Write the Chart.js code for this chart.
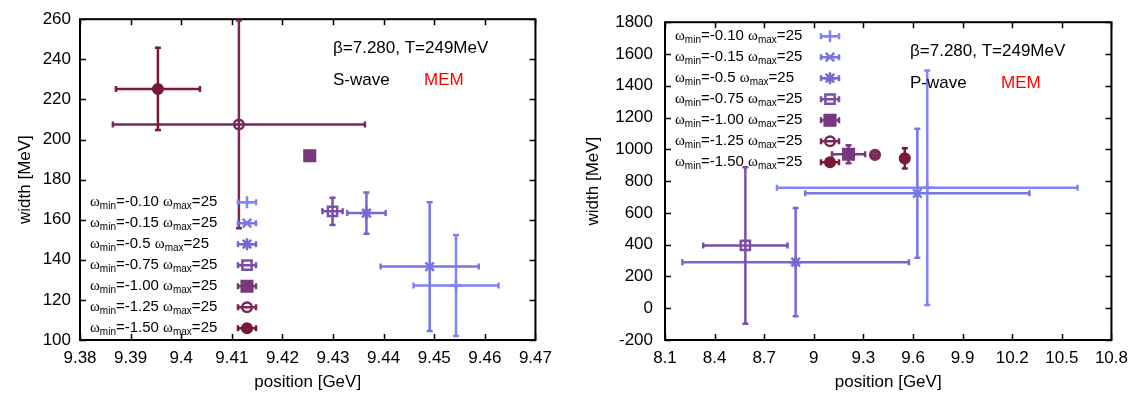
<!DOCTYPE html>
<html>
<head>
<meta charset="utf-8">
<script src="https://cdn.jsdelivr.net/npm/chart.js@4.4.1/dist/chart.umd.min.js"></script>
<style>
  html, body { margin: 0; padding: 0; background: #fff; }
  #wrap { position: relative; width: 1136px; height: 394px; }
  canvas { position: absolute; top: 0; }
  #sChart { left: 0; }
  #pChart { left: 560px; }
</style>
</head>
<body>
<div id="wrap">
  <canvas id="sChart" width="560" height="394"></canvas>
  <canvas id="pChart" width="576" height="394"></canvas>
</div>
<script>
// one entry per omega_min (omega_max = 25 for all)
const omegaMin = ["-0.10", "-0.15", "-0.5", "-0.75", "-1.00", "-1.25", "-1.50"];
const colors = ["#8084f6", "#7876e6", "#7a66d2", "#7a4fa8", "#78387e", "#7a2858", "#7a1838"];
const markers = ["cross", "crossRot", "star", "rect", "rect", "circle", "circle"];
const filled = [false, false, false, false, true, false, true];
const markerSize = [6, 6, 6, 6.5, 7.5, 4.8, 4.8];

// S-wave
const sPosition = [9.4543, 9.4491, 9.4366, 9.4299, 9.4254, 9.4114, 9.3954];
const sPositionErr = [0.0084, 0.0097, 0.0038, 0.0020, 0.0005, 0.0249, 0.0083];
const sWidth = [127.2, 136.6, 163.3, 164.2, 191.9, 207.5, 225.2];
const sWidthErr = [25.2, 32.1, 10.3, 6.8, 1.0, 51.8, 20.5];
const sXTicks = [9.38, 9.39, 9.40, 9.41, 9.42, 9.43, 9.44, 9.45, 9.46, 9.47];
const sYTicks = [100, 120, 140, 160, 180, 200, 220, 240, 260];

// P-wave
const pPosition = [9.686, 9.626, 8.890, 8.586, 9.210, 9.370, 9.550];
const pPositionErr = [0.909, 0.678, 0.685, 0.255, 0.100, 0.02, 0.02];
const pWidth = [758, 723, 290, 395, 969, 965, 943];
const pWidthErr = [738, 406, 340, 492, 57, 18, 64];
const pXTicks = [8.1, 8.4, 8.7, 9.0, 9.3, 9.6, 9.9, 10.2, 10.5, 10.8];
const pYTicks = [-200, 0, 200, 400, 600, 800, 1000, 1200, 1400, 1600, 1800];

const FONT = "'Liberation Sans', Arial, sans-serif";

// frame with inward ticks on all four sides, gnuplot style
const framePlugin = {
  id: "frame",
  beforeDatasetsDraw(chart) {
    const { ctx, chartArea: a, scales: { x, y } } = chart;
    ctx.save();
    ctx.strokeStyle = "#000";
    ctx.lineWidth = 1.5;
    ctx.beginPath();
    x.ticks.forEach(t => {
      const px = Math.round(x.getPixelForValue(t.value)) + 0.5;
      ctx.moveTo(px, a.bottom); ctx.lineTo(px, a.bottom - 6);
      ctx.moveTo(px, a.top); ctx.lineTo(px, a.top + 6);
    });
    y.ticks.forEach(t => {
      const py = Math.round(y.getPixelForValue(t.value)) + 0.5;
      ctx.moveTo(a.left, py); ctx.lineTo(a.left + 6, py);
      ctx.moveTo(a.right, py); ctx.lineTo(a.right - 6, py);
    });
    ctx.stroke();
    ctx.lineWidth = 2;
    ctx.strokeRect(a.left, a.top, a.right - a.left, a.bottom - a.top);
    ctx.restore();
  }
};

// xy error bars, drawn just before each dataset's point
const errorBarPlugin = {
  id: "errorBars",
  beforeDatasetDraw(chart, args) {
    const { ctx, chartArea: a, scales: { x, y } } = chart;
    const ds = chart.data.datasets[args.index];
    ctx.save();
    ctx.beginPath();
    ctx.rect(a.left, a.top, a.right - a.left, a.bottom - a.top);
    ctx.clip();
    ctx.strokeStyle = ds.borderColor;
    ctx.lineWidth = 2.5;
    ds.data.forEach(p => {
      const cx = x.getPixelForValue(p.x), cy = y.getPixelForValue(p.y);
      const x0 = x.getPixelForValue(p.x - p.xErr), x1 = x.getPixelForValue(p.x + p.xErr);
      const y0 = y.getPixelForValue(p.y - p.yErr), y1 = y.getPixelForValue(p.y + p.yErr);
      ctx.beginPath();
      ctx.moveTo(x0, cy); ctx.lineTo(x1, cy);
      ctx.moveTo(cx, y0); ctx.lineTo(cx, y1);
      ctx.moveTo(x0, cy - 3); ctx.lineTo(x0, cy + 3);
      ctx.moveTo(x1, cy - 3); ctx.lineTo(x1, cy + 3);
      ctx.moveTo(cx - 3, y0); ctx.lineTo(cx + 3, y0);
      ctx.moveTo(cx - 3, y1); ctx.lineTo(cx + 3, y1);
      ctx.stroke();
    });
    ctx.restore();
  }
};

// key text with subscripts + the labels in the corner
const keyPlugin = {
  id: "key",
  afterDatasetsDraw(chart, args, opts) {
    const { ctx, chartArea: a } = chart;
    ctx.save();
    ctx.textBaseline = "middle";
    omegaMin.forEach((w, i) => {
      const ty = a.top + opts.keyTop + i * 21;
      let tx = a.left + 10;
      const parts = [
        ["\u03c9", "15px 'Liberation Serif', serif", 0],
        ["min", "10px " + FONT, 4],
        ["=" + w + " ", "15px " + FONT, 0],
        ["\u03c9", "15px 'Liberation Serif', serif", 0],
        ["max", "10px " + FONT, 4],
        ["=25", "15px " + FONT, 0]
      ];
      ctx.fillStyle = "#000";
      parts.forEach(([s, f, dy]) => {
        ctx.font = f;
        ctx.fillText(s, tx, ty + dy);
        tx += ctx.measureText(s).width;
      });
      // sample
      const sx = a.left + opts.keyX;
      ctx.strokeStyle = colors[i];
      ctx.lineWidth = 2.5;
      ctx.beginPath();
      ctx.moveTo(sx - 9, ty); ctx.lineTo(sx + 9, ty);
      ctx.moveTo(sx - 9, ty - 3); ctx.lineTo(sx - 9, ty + 3);
      ctx.moveTo(sx + 9, ty - 3); ctx.lineTo(sx + 9, ty + 3);
      ctx.stroke();
      ctx.fillStyle = filled[i] ? colors[i] : "rgba(0,0,0,0)";
      Chart.helpers.drawPoint(ctx, { pointStyle: markers[i], radius: markerSize[i], rotation: 0, borderWidth: 2.5 }, sx, ty);
    });
    ctx.font = "17px " + FONT;
    ctx.fillStyle = "#000";
    ctx.fillText("\u03b2=7.280, T=249MeV", a.left + opts.noteX, a.top + 29);
    ctx.fillText(opts.wave, a.left + opts.noteX, a.top + 61);
    ctx.fillStyle = "#ff0000";
    ctx.fillText("MEM", a.left + opts.noteX + 91, a.top + 61);
    ctx.restore();
  }
};

function makeChart(id, pos, posErr, width, widthErr, xTicks, yTicks, o) {
  const datasets = omegaMin.map((w, i) => ({
    label: "\u03c9min=" + w + " \u03c9max=25",
    data: [{ x: pos[i], y: width[i], xErr: posErr[i], yErr: widthErr[i] }],
    borderColor: colors[i],
    backgroundColor: filled[i] ? colors[i] : "rgba(0,0,0,0)",
    pointStyle: markers[i],
    pointRadius: markerSize[i],
    pointBorderWidth: 2.5,
    order: omegaMin.length - i
  }));
  const tickFont = { family: FONT, size: 17 };
  return new Chart(document.getElementById(id), {
    type: "scatter",
    data: { datasets },
    plugins: [framePlugin, errorBarPlugin, keyPlugin],
    options: {
      responsive: false,
      animation: false,
      events: [],
      layout: { padding: { left: 0, right: 21, top: 15, bottom: 0 } },
      plugins: {
        legend: { display: false },
        tooltip: { enabled: false },
        key: { keyTop: o.keyTop, keyX: o.keyX, noteX: o.noteX, wave: o.wave }
      },
      scales: {
        x: {
          type: "linear",
          min: xTicks[0],
          max: xTicks[xTicks.length - 1],
          afterBuildTicks: s => { s.ticks = xTicks.map(v => ({ value: v })); },
          afterFit: s => { s.height = 54; },
          grid: { display: false, drawTicks: false },
          border: { display: false },
          ticks: { color: "#000", font: tickFont, padding: 8, maxRotation: 0, autoSkip: false,
                   callback: v => String(+v.toFixed(2)) },
          title: { display: true, text: "position [GeV]", color: "#000", font: tickFont, padding: { top: 0, bottom: 1 } }
        },
        y: {
          type: "linear",
          min: yTicks[0],
          max: yTicks[yTicks.length - 1],
          afterBuildTicks: s => { s.ticks = yTicks.map(v => ({ value: v })); },
          afterFit: s => { s.width = o.yWidth; },
          grid: { display: false, drawTicks: false },
          border: { display: false },
          ticks: { color: "#000", font: tickFont, padding: o.yPad, autoSkip: false,
                   callback: v => String(v) },
          title: { display: true, text: "width [MeV]", color: "#000", font: tickFont, padding: { top: o.titlePad, bottom: 0 } }
        }
      }
    }
  });
}

makeChart("sChart", sPosition, sPositionErr, sWidth, sWidthErr, sXTicks, sYTicks,
  { yWidth: 80, yPad: 9, titlePad: 15, keyTop: 183, keyX: 167, noteX: 253, wave: "S-wave" });
makeChart("pChart", pPosition, pPositionErr, pWidth, pWidthErr, pXTicks, pYTicks,
  { yWidth: 105, yPad: 12, titlePad: 23, keyTop: 14, keyX: 165, noteX: 245, wave: "P-wave" });
</script>
</body>
</html>
